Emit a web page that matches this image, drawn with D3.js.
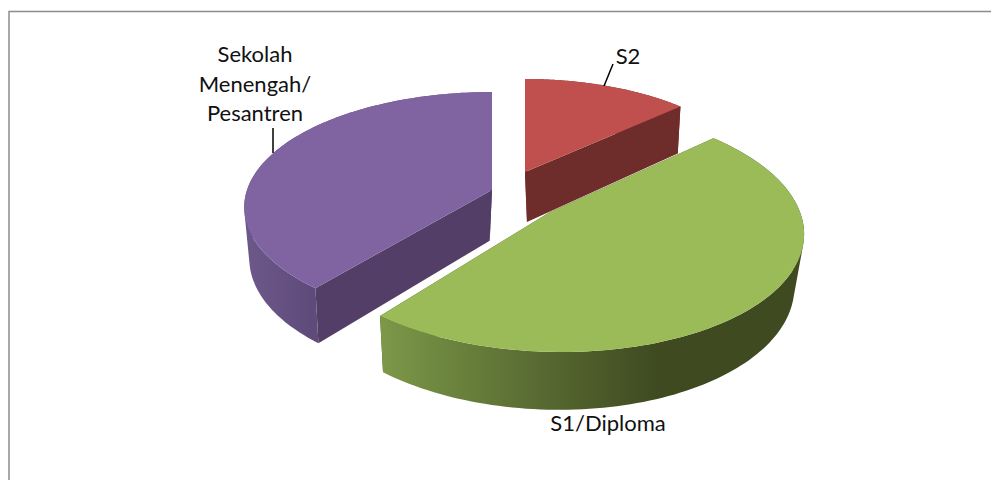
<!DOCTYPE html>
<html><head><meta charset="utf-8">
<script src="https://cdn.jsdelivr.net/npm/d3@7"></script>
<style>html,body{margin:0;padding:0;background:#fff}svg{display:block}text{font-family:Lato,"Open Sans",sans-serif;fill:#111}</style>
</head><body><svg id="c" width="991" height="480"></svg>
<script>
const categories = ["S2", "S1/Diploma", "Sekolah Menengah/Pesantren"];
const values = [13.3, 47.7, 39];
const topColors = ["#C0504D", "#9BBB59", "#8064A2"];
const innerWallColors = ["#6E2C2A", "#46542A", "#523E66"];
const outerWallStops = [
  [["0", "#6E2C2A"], ["1", "#6E2C2A"]],
  [["0", "#7C9848"], ["0.5", "#5C7034"], ["1", "#3F4A21"]],
  [["0", "#6C5789"], ["1", "#5E4A79"]]
];
// layout of each exploded slice: apex, ellipse radii and perspective, skew, wall vanishing x, gradient span
const layout = [
  {cx: 525, cy: 172, a: 233, b: 108.5, p: 1 / 6, skew: 0, vx: 590, gx: [525, 681]},
  {cx: 550, cy: 212, a: 250, b: 120.4, p: 0.14, skew: 10, vx: 480, gx: [381, 657]},
  {cx: 492, cy: 190, a: 245, b: 112.7, p: 0.15, skew: 0, vx: 415, gx: [250, 319]}
];
const labelLines = [["S2"], ["S1/Diploma"], ["Sekolah", "Menengah/", "Pesantren"]];
const labelPos = [{x: 628, y: 64}, {x: 608, y: 431}, {x: 255, y: 62}];
const leaders = [[[613, 64], [604, 86]], null, [[273, 128], [273, 153]]];

const svg = d3.select("#c");
const defs = svg.append("defs");
const arcs = d3.pie().sort(null).value(d => d)(values);
const line = d3.line();

const project = (i, t) => {
  const L = layout[i], u = Math.sin(t), v = -Math.cos(t), w = 1 / (1 - L.p * v);
  return [L.cx + (L.a * u + L.skew * v) * w, L.cy + L.b * v * w];
};
const lower = (i, P) => [layout[i].vx + (P[0] - layout[i].vx) * 0.97, P[1] + 47 + (P[1] - 106) * 0.044];
const arcPts = (i, d) => d3.range(0, 121).map(k => project(i, d.startAngle + (d.endAngle - d.startAngle) * k / 120));

// frame
svg.append("path").attr("d", line([[9, 480], [9, 11.5], [991, 11.5]]))
  .attr("fill", "none").attr("stroke", "#8C8C8C").attr("stroke-width", 1.5);

arcs.forEach((d, i) => {
  const g = defs.append("linearGradient").attr("id", "wall" + i).attr("gradientUnits", "userSpaceOnUse")
    .attr("x1", layout[i].gx[0]).attr("x2", layout[i].gx[1]).attr("y1", 0).attr("y2", 0);
  outerWallStops[i].forEach(s => g.append("stop").attr("offset", s[0]).attr("stop-color", s[1]));
});

[2, 0, 1].forEach(i => {
  const d = arcs[i], pts = arcPts(i, d), apex = [layout[i].cx, layout[i].cy];
  const bot = pts.map(P => lower(i, P));
  const g = svg.append("g");
  // straight inner walls
  [pts[0], pts[pts.length - 1]].forEach(P => {
    g.append("path").attr("d", line([apex, P, lower(i, P), lower(i, apex)]) + "Z").attr("fill", innerWallColors[i]);
  });
  // outer wall: union of convex quads so the silhouette joins top and bottom rims
  const quads = d3.range(pts.length - 1).map(k =>
    line(d3.polygonHull([pts[k], pts[k + 1], bot[k + 1], bot[k]])) + "Z").join("");
  g.append("path").attr("d", quads).attr("fill", `url(#wall${i})`);
  // top surface
  g.append("path").attr("d", line([apex].concat(pts)) + "Z").attr("fill", topColors[i]);
});

leaders.forEach(l => { if (l) svg.append("path").attr("d", line(l)).attr("stroke", "#000").attr("stroke-width", 1.5).attr("fill", "none"); });

labelLines.forEach((ls, i) => {
  ls.forEach((t, j) => svg.append("text").attr("x", labelPos[i].x).attr("y", labelPos[i].y + j * 29.5)
    .attr("text-anchor", "middle").attr("font-size", 22).text(t));
});
</script></body></html>
